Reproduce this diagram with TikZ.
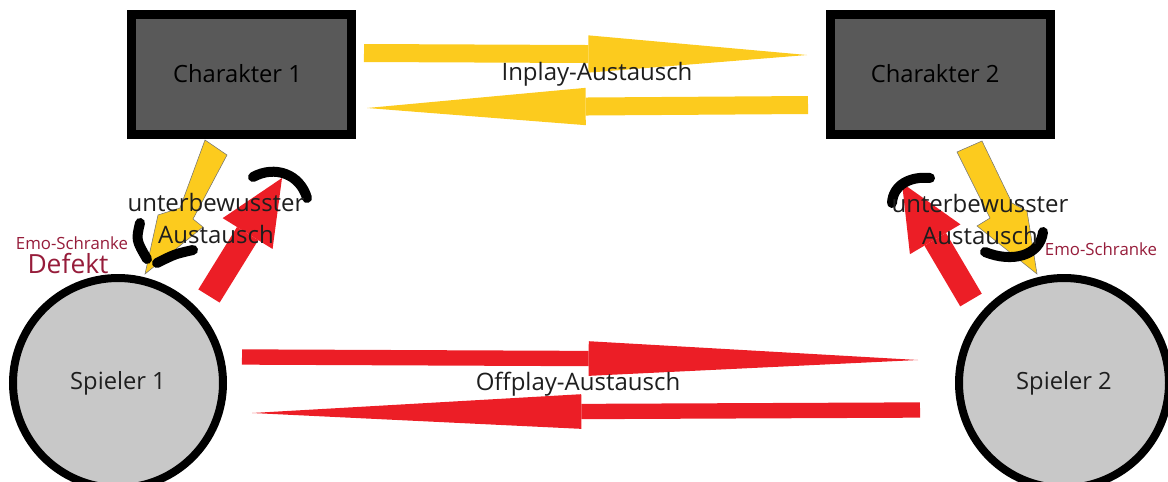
\documentclass[tikz,border=0pt]{standalone}
\usepackage{fontspec}
\setmainfont{Open Sans}
\usepackage{xcolor}
\definecolor{boxgrau}{RGB}{89,89,89}
\definecolor{kreisgrau}{RGB}{200,200,200}
\definecolor{gelb}{RGB}{252,203,30}
\definecolor{rot}{RGB}{236,30,38}
\definecolor{weinrot}{RGB}{150,28,58}
\definecolor{schrift}{RGB}{30,30,30}
\usepackage{tikz}
\usetikzlibrary{arrows.meta}

\begin{document}
\begin{tikzpicture}[x=0.75pt, y=-0.75pt,
  charakter/.style={rectangle, draw=black, fill=boxgrau, line width=6.75pt, minimum width=165pt, minimum height=90pt, text=black, font=\fontsize{17.8}{21}\selectfont},
  spieler/.style={circle, draw=black, fill=kreisgrau, line width=6pt, minimum size=157.5pt, text=schrift, font=\fontsize{17.8}{21}\selectfont},
  inplay/.style={gelb, line width=13.5pt, -{Triangle[length=164pt, width=28pt, line width=0pt]}},
  offplay/.style={rot, line width=11.5pt, -{Triangle[length=247pt, width=26pt, line width=0pt]}},
  unbewusst/.style={rot, line width=18.75pt, -{Triangle[length=49pt, width=44pt, line width=0pt]}},
  blitz/.style={fill=gelb, draw=black!55, line width=0.4pt, line join=miter},
  schranke/.style={black, line width=7.5pt, line cap=round},
  label/.style={text=schrift, font=\fontsize{18}{21}\selectfont},
  emo/.style={text=weinrot, font=\fontsize{12.6}{14}\selectfont}
]
  \useasboundingbox (0,0) rectangle (1168,482);
  \clip (0,0) rectangle (1168,482);

  % Charaktere und Spieler
  \node[charakter] (char1) at (241.5,74) {\hspace*{-6pt}Charakter 1};
  \node[charakter] (char2) at (940.5,74) {\hspace*{-8pt}Charakter 2};
  \node[spieler] (spieler1) at (118,383) {Spieler 1};
  \node[spieler] (spieler2) at (1064,383) {Spieler 2};

  % Enden der Austauschpfeile
  \coordinate (in1a) at (364,53);
  \coordinate (in1b) at (807,55);
  \coordinate (in2a) at (808,105);
  \coordinate (in2b) at (367,108);
  \coordinate (off1a) at (242,357);
  \coordinate (off1b) at (918,360);
  \coordinate (off2a) at (920,410);
  \coordinate (off2b) at (252,413);
  \coordinate (hoch1a) at (209,296);
  \coordinate (hoch1b) at (282,178);
  \coordinate (hoch2a) at (971,300);
  \coordinate (hoch2b) at (902,183);

  % Inplay
  \draw[inplay] (in1a) -- (in1b);
  \draw[inplay] (in2a) -- (in2b);
  \node[label] (inplay) at (597,74) {Inplay-Austausch};

  % Offplay
  \draw[offplay] (off1a) -- (off1b);
  \draw[offplay] (off2a) -- (off2b);
  \node[label] (offplay) at (578,384) {Offplay-Austausch};

  % Spieler -> Charakter
  \draw[unbewusst] (hoch1a) -- (hoch1b);
  \draw[unbewusst] (hoch2a) -- (hoch2b);

  % Charakter -> Spieler (Blitze)
  \draw[blitz] (205,140) -- (227,155) -- (193,219) -- (203,227) -- (145,274) -- (158,215) -- (180,208) -- cycle;
  \draw[blitz] (957,152) -- (982,141) -- (1012,203) -- (1027,211) -- (1037,274) -- (977,226) -- (990,218) -- cycle;

  % Emo-Schranken
  \draw[schranke] (140,223) .. controls (136,240) .. (147,259);
  \draw[schranke] (157,263) .. controls (175,254) .. (193,250);
  \draw[schranke] (253,177) .. controls (275,165) and (300,174) .. (307,198);
  \draw[schranke] (892,203) .. controls (893,185) and (910,176) .. (930,178);
  \draw[schranke] (985,252) .. controls (1012,263) and (1040,256) .. (1043,232);

  \node[label, align=center] (unter1) at (216,218) {unterbewusster\\[3pt]Austausch};
  \node[label, align=center] (unter2) at (980,219) {unterbewusster\\[3pt]Austausch};

  \node[emo] (emo1) at (72,243) {Emo-Schranke};
  \node[emo, font=\fontsize{19.8}{22}\selectfont] (defekt) at (68,264) {Defekt};
  \node[emo] (emo2) at (1101,249) {Emo-Schranke};
\end{tikzpicture}
\end{document}
